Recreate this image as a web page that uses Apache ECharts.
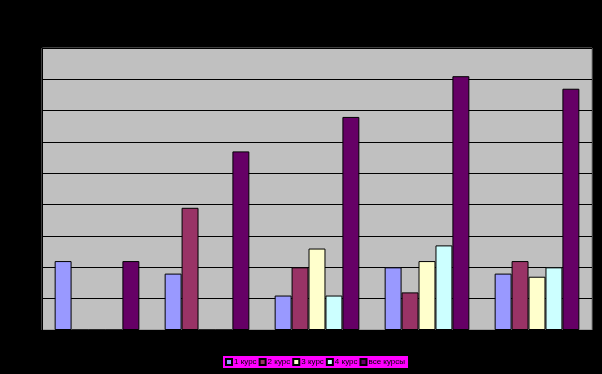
<!DOCTYPE html>
<html>
<head>
<meta charset="utf-8">
<script src="https://cdn.jsdelivr.net/npm/echarts@6/dist/echarts.min.js"></script>
<style>html,body{margin:0;padding:0;background:#000;}#c{width:602px;height:374px;}</style>
</head>
<body>
<div id="c"></div>
<script>
const categories = ['1', '2', '3', '4', '5'];
const seriesNames = ['1 курс', '2 курс', '3 курс', '4 курс', 'все курсы'];
const kurs1 = [2.2, 1.8, 1.1, 2.0, 1.8];
const kurs2 = [0, 3.9, 2.0, 1.2, 2.2];
const kurs3 = [0, 0, 2.6, 2.2, 1.7];
const kurs4 = [0, 0, 1.1, 2.7, 2.0];
const allKurs = [2.2, 5.7, 6.8, 8.1, 7.7];
const colors = ['#9999FF', '#993366', '#FFFFCC', '#CCFFFF', '#660066'];
const values = [kurs1, kurs2, kurs3, kurs4, allKurs];

const chart = echarts.init(document.getElementById('c'), null, {renderer: 'canvas'});
chart.setOption({
  backgroundColor: '#000000',
  animation: false,
  grid: {
    left: 42, right: 10, top: 48, bottom: 44,
    show: true, backgroundColor: '#C0C0C0', borderColor: '#808080', borderWidth: 1
  },
  legend: {
    left: 223, top: 356,
    backgroundColor: '#FF00FF',
    padding: [2, 3, 2, 2],
    itemWidth: 6, itemHeight: 6, itemGap: 2,
    icon: 'rect',
    textStyle: {fontSize: 8, color: '#000', fontFamily: 'Liberation Sans, Arial, sans-serif', padding: [0, 0, 0, -3]},
    data: seriesNames
  },
  xAxis: {
    type: 'category', data: categories,
    axisLine: {show: true, lineStyle: {color: '#000'}},
    axisTick: {show: false}, axisLabel: {show: false}
  },
  yAxis: {
    type: 'value', min: 0, max: 9, interval: 1,
    axisLine: {show: true, lineStyle: {color: '#000'}},
    axisTick: {show: false}, axisLabel: {show: false},
    splitLine: {show: true, lineStyle: {color: '#000', width: 1}}
  },
  series: seriesNames.map((n, i) => ({
    name: n, type: 'bar', data: values[i],
    barGap: '0%', barCategoryGap: '23%',
    itemStyle: {color: colors[i], borderColor: '#000', borderWidth: 1}
  }))
});
</script>
</body>
</html>
